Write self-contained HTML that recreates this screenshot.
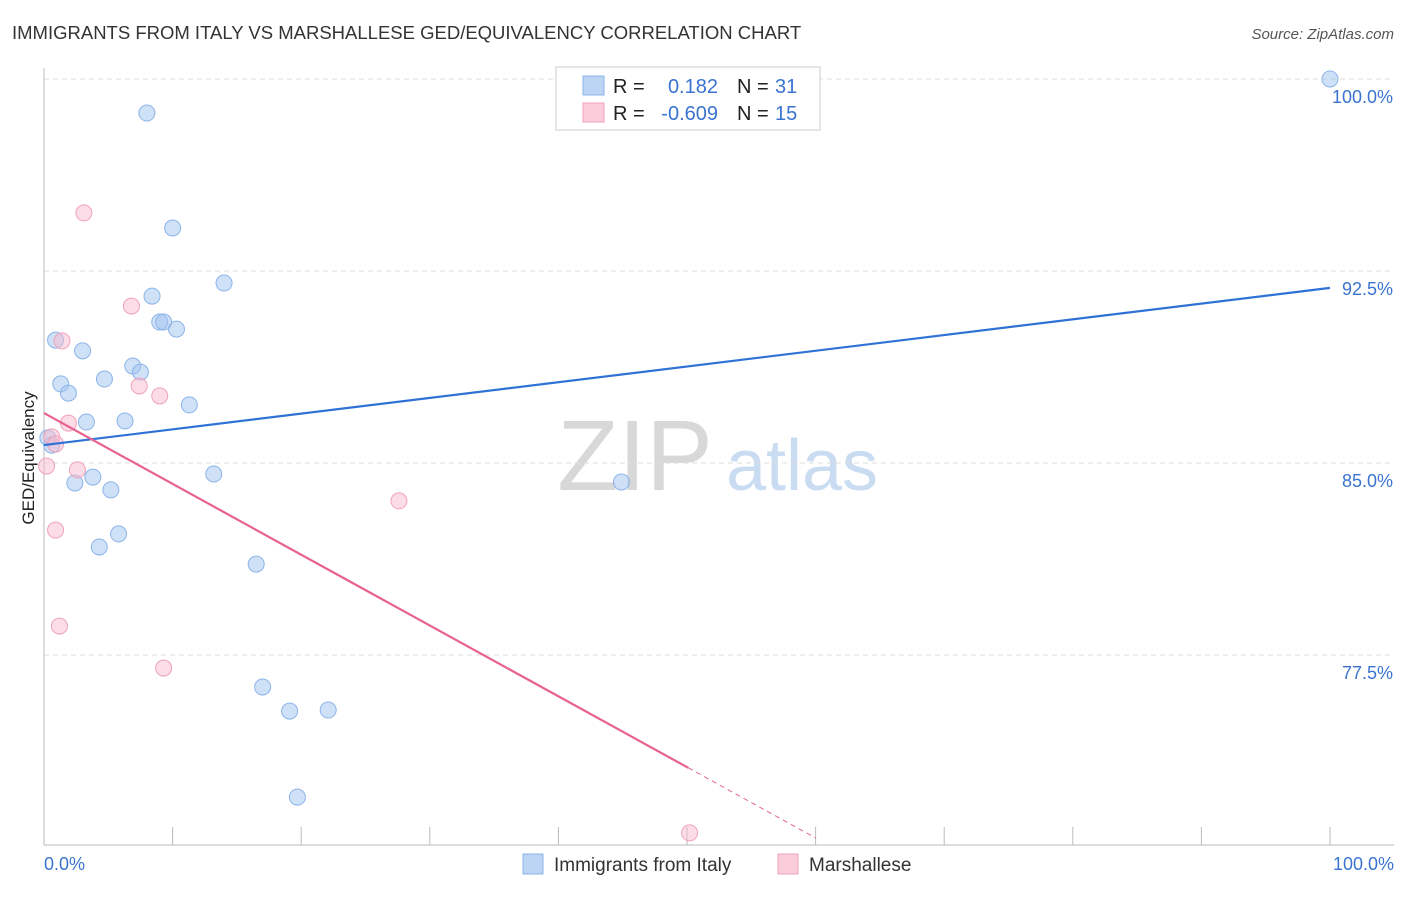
<!DOCTYPE html>
<html><head><meta charset="utf-8"><style>
body{margin:0;background:#fff;font-family:"Liberation Sans",sans-serif;}
svg text{font-family:"Liberation Sans",sans-serif;}
</style></head><body>
<svg id="chart" width="1406" height="892" xmlns="http://www.w3.org/2000/svg">
<text x="12" y="39" font-size="18.5" fill="#333">IMMIGRANTS FROM ITALY VS MARSHALLESE GED/EQUIVALENCY CORRELATION CHART</text>
<text x="1394" y="39" font-size="15" fill="#555" text-anchor="end" font-style="italic">Source: ZipAtlas.com</text>
<g>
<text x="635" y="490" font-size="100" fill="#d8d8d8" font-family="Liberation Serif" text-anchor="middle">ZIP</text>
<text x="802" y="490" font-size="72" fill="#c9dcf2" text-anchor="middle">atlas</text>
</g>
<g id="grid"></g><g id="axes"></g><g id="marks"></g>
<text transform="translate(34,458) rotate(-90)" font-size="17" fill="#222" text-anchor="middle">GED/Equivalency</text>
<g>
<rect x="556" y="67" width="264" height="63" fill="#fff" stroke="#ccc"/>
<rect x="583" y="76" width="21" height="19" fill="#bcd5f5" stroke="#8cb4ea"/>
<rect x="583" y="103" width="21" height="19" fill="#fbccd9" stroke="#f0a2bb"/>
<text x="613" y="93" font-size="20" fill="#222">R =</text>
<text x="718" y="93" font-size="20" fill="#3a74d0" text-anchor="end">0.182</text>
<text x="737" y="93" font-size="20" fill="#222">N =</text>
<text x="775" y="93" font-size="20" fill="#3a74d0">31</text>
<text x="613" y="120" font-size="20" fill="#222">R =</text>
<text x="718" y="120" font-size="20" fill="#3a74d0" text-anchor="end">-0.609</text>
<text x="737" y="120" font-size="20" fill="#222">N =</text>
<text x="775" y="120" font-size="20" fill="#3a74d0">15</text>
</g>
<g>
<rect x="523" y="854" width="20" height="20" fill="#bcd5f5" stroke="#8cb4ea"/>
<text x="554" y="871" font-size="19" fill="#333">Immigrants from Italy</text>
<rect x="778" y="854" width="20" height="20" fill="#fbccd9" stroke="#f0a2bb"/>
<text x="809" y="871" font-size="19" fill="#333">Marshallese</text>
</g>
</svg>
<script>
const blueX=[8.0,10.0,14.0,8.4,9.0,9.3,10.3,0.9,3.0,6.9,7.5,4.7,1.3,1.9,11.3,3.3,6.3,0.3,0.6,3.8,13.2,2.4,5.2,5.8,4.3,16.5,17.0,19.1,22.1,19.7,44.9,100];
const blueY=[98.67,94.18,92.03,91.52,90.51,90.51,90.23,89.80,89.38,88.79,88.55,88.28,88.09,87.73,87.27,86.60,86.64,85.98,85.70,84.45,84.57,84.22,83.95,82.23,81.72,81.05,76.25,75.31,75.35,71.95,84.26,100];
const pinkX=[3.1,6.8,1.4,7.4,9.0,1.9,0.6,0.9,2.6,0.2,0.9,1.2,9.3,27.6,50.2];
const pinkY=[94.77,91.13,89.77,88.01,87.62,86.56,86.02,85.74,84.73,84.88,82.38,78.63,76.99,83.52,70.55];
const blueTrend=[85.70,91.84];
const pinkTrend=[86.95,-0.2766];
const yTicks=[100,92.5,85,77.5];
const yTickLabels=["100.0%","92.5%","85.0%","77.5%"];
const xTickLabels=["0.0%","100.0%"];
const NS="http://www.w3.org/2000/svg";
const X=v=>44+v*12.86, Y=v=>79+(100-v)*25.6;
function mk(p,t,a){const e=document.createElementNS(NS,t);for(const k in a)e.setAttribute(k,a[k]);document.getElementById(p).appendChild(e);return e;}
yTicks.forEach((t,i)=>{
 let l=mk('grid','line',{x1:44,x2:1394,y1:Y(t),y2:Y(t),stroke:'#ddd','stroke-dasharray':'5,4'});
 
 
 let tx=mk('axes','text',{x:1393,y:Y(t)+24,'font-size':18,fill:'#3a74d0','text-anchor':'end'});tx.textContent=yTickLabels[i];
 
 
});
let ax=mk('axes','line',{x1:44,x2:1394,y1:845,y2:845,stroke:'#bbb'});


let ay=mk('axes','line',{x1:44,x2:44,y1:68,y2:845,stroke:'#bbb'});


for(let i=0;i<=10;i++){let t=mk('axes','line',{x1:X(i*10),x2:X(i*10),y1:827,y2:845,stroke:'#bbb'});
 
 }
[[0,'start',44],[1,'end',1394]].forEach(([i,a,x])=>{let t=mk('axes','text',{x:x,y:870,'font-size':18,fill:'#3a74d0','text-anchor':a});t.textContent=xTickLabels[i];
 
 });
blueX.forEach((x,i)=>{let c=mk('marks','circle',{cx:X(x),cy:Y(blueY[i]),r:8,fill:'rgba(160,195,240,0.5)',stroke:'#8cb4ea','stroke-width':1});
 
 });
pinkX.forEach((x,i)=>{let c=mk('marks','circle',{cx:X(x),cy:Y(pinkY[i]),r:8,fill:'rgba(250,185,205,0.5)',stroke:'#f0a2bb','stroke-width':1});
 
 });
let bt=mk('marks','line',{x1:X(0),y1:Y(blueTrend[0]),x2:X(100),y2:Y(blueTrend[1]),stroke:'#2f72d6','stroke-width':2.2});


const pe=50.1,pd=60;
let pt=mk('marks','line',{x1:X(0),y1:Y(pinkTrend[0]),x2:X(pe),y2:Y(pinkTrend[0]+pinkTrend[1]*pe),stroke:'#e8628f','stroke-width':2.2});


let pdl=mk('marks','line',{x1:X(pe),y1:Y(pinkTrend[0]+pinkTrend[1]*pe),x2:X(pd),y2:Y(pinkTrend[0]+pinkTrend[1]*pd),stroke:'#e8628f','stroke-width':1,'stroke-dasharray':'5,4'});


</script>
</body></html>
